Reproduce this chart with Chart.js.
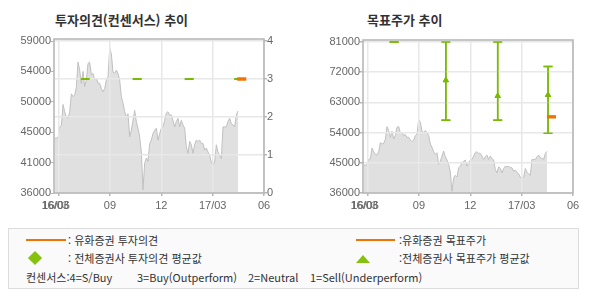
<!DOCTYPE html>
<html lang="ko">
<head>
<meta charset="utf-8">
<title>투자의견 / 목표주가 추이</title>
<script src="https://cdn.jsdelivr.net/npm/chart.js@4.4.1/dist/chart.umd.min.js"></script>
<style>
  body { margin: 0; width: 590px; height: 300px; position: relative; background: #fff; overflow: hidden;
         font-family: "Noto Sans CJK KR", "Noto Sans", sans-serif; color: #333; }
  .abs { position: absolute; white-space: pre; }
  .title { font-size: 13px; font-weight: bold; line-height: 16px; color: #333; }
  .lg { font-size: 11px; line-height: 14px; color: #333; }
  .box { position: absolute; left: 8px; top: 228px; width: 571px; height: 61px; box-sizing: border-box;
         border: 1px solid #dcdcdc; background: #fafafa; }
  .hline { position: absolute; height: 2px; background: #f07405; }
  .diamond { position: absolute; width: 10px; height: 10px; background: #84c20f; transform: rotate(45deg); }
  .tri { position: absolute; width: 0; height: 0; border-left: 7.5px solid transparent;
         border-right: 7.5px solid transparent; border-bottom: 8px solid #84c20f; }
</style>
</head>
<body>

<div class="abs title" style="left:55px; top:12px">투자의견(컨센서스) 추이</div>
<div class="abs title" style="left:367px; top:12px">목표주가 추이</div>

<canvas id="opinionChart" width="300" height="215" style="position:absolute; left:0; top:0"></canvas>
<canvas id="targetChart" width="290" height="215" style="position:absolute; left:300px; top:0"></canvas>

<div class="box"></div>
<div class="hline" style="left:26px; top:239px; width:40px"></div>
<div class="abs lg" style="left:68px; top:233px">: 유화증권 투자의견</div>
<div class="diamond" style="left:30px; top:253px"></div>
<div class="abs lg" style="left:68px; top:251px">: 전체증권사 투자의견 평균값</div>
<div class="hline" style="left:356px; top:239px; width:39px"></div>
<div class="abs lg" style="left:399px; top:233px">:유화증권 목표주가</div>
<div class="tri" style="left:356px; top:255px"></div>
<div class="abs lg" style="left:399px; top:251px">:전체증권사 목표주가 평균값</div>
<div class="abs lg" style="left:26px; top:270px">컨센서스:4=S/Buy</div>
<div class="abs lg" style="left:137px; top:270px">3=Buy(Outperform)</div>
<div class="abs lg" style="left:248px; top:270px">2=Neutral</div>
<div class="abs lg" style="left:310px; top:270px">1=Sell(Underperform)</div>

<script>
// x values are months counted from 2016-06 (0) to 2017-06 (12)
var xTickValues = [-0.2, -0.15, 0, 3, 6, 9, 12];
var xTickLabels = ['16/03', '16/06', '', '09', '12', '17/03', '06'];

var priceFirstMonth = -0.23;
var priceLastMonth = 10.48;
var prices = [
  44300, 44300, 44400, 46000, 46200, 49400, 48300, 47500, 47300, 48300,
  51000, 50600, 50800, 52000, 55800, 54600, 52600, 54400, 52100, 53100,
  55600, 55800, 53900, 54100, 53100, 53400, 52600, 52600, 51800, 51300,
  51800, 53100, 53600, 57900, 57100, 54300, 54100, 54600, 54100, 53100,
  50600, 49600, 48300, 47500, 48000, 44500, 45500, 47000, 48500, 46800,
  45800, 44500, 42200, 36500, 40500, 41300, 40800,
  43500, 44000, 45000, 45500, 45800, 44000, 45000, 45800, 46000, 47000,
  48100, 48300, 47800, 47800, 47000, 46000, 46800, 47300, 46000, 47000,
  46300, 45800, 43000, 42000, 43800, 43300, 42000, 43300, 44000, 43800,
  44000, 43500, 43500, 42500, 42800, 42200, 41700, 40700, 40200, 40700,
  43300, 42200, 41700, 41200, 46000, 46000, 46000, 46800, 47300, 46500,
  46300, 46000, 47800, 48400
];

// left axis of the opinion chart
var priceAxisTicks = [36000, 40600, 45200, 49800, 54400, 59000];
var priceAxisLabels = ['36000', '41000', '45000', '50000', '54000', '59000'];
var opinionAxisTicks = [0, 1, 2, 3, 4];
var targetAxisTicks = [36000, 45000, 54000, 63000, 72000, 81000];

// consensus opinion (all brokers average) and 유화증권 opinion
var opinionDates = [1.55, 4.59, 7.63, 10.52];
var opinionAvg = [3, 3, 3, 3];
var hwOpinionDates = [10.7];
var hwOpinion = [3];

// target price: range of all brokers, their average, and 유화증권
var targetDates = [1.55, 4.57, 7.6, 10.54];
var targetLow = [81000, 57700, 57700, 53800];
var targetHigh = [81000, 81000, 81000, 73700];
var targetAvg = [null, 69600, 64900, 65200];
var hwTargetDates = [10.74];
var hwTarget = [58700];

var green = '#7aba00';
var orange = '#f07405';

Chart.defaults.font.family = '"Liberation Sans", Arial, sans-serif';
Chart.defaults.font.size = 11;
Chart.defaults.color = '#666';

var pricePoints = prices.map(function (p, i) {
  return { x: priceFirstMonth + i * (priceLastMonth - priceFirstMonth) / (prices.length - 1), y: p };
});

function pairs(xs, ys) {
  return xs.map(function (x, i) { return { x: x, y: ys[i] }; });
}

function hideNeg(col) {
  return function (c) { return c.tick && c.tick.value < 0 ? 'rgba(0,0,0,0)' : col; };
}

function monthAxis() {
  return {
    type: 'linear',
    min: -0.27,
    max: 12,
    afterBuildTicks: function (s) { s.ticks = xTickValues.map(function (v) { return { value: v }; }); },
    afterFit: function (s) { s.height = 22; },
    ticks: { autoSkip: false, maxRotation: 0, padding: 3, callback: function (v, i) { return xTickLabels[i]; } },
    grid: { z: 1, color: hideNeg('#e8e8e8'), tickColor: hideNeg('#b8b8b8'), tickLength: 3, lineWidth: 1.5 },
    border: { display: false }
  };
}

function priceArea(axisId) {
  return {
    type: 'line',
    data: pricePoints,
    yAxisID: axisId,
    borderColor: '#c0c0c0',
    borderWidth: 1,
    backgroundColor: '#e0e0e0',
    fill: 'start',
    pointRadius: 0,
    tension: 0
  };
}

// frame round the plot, then the marks again so they sit above the grid
var topLayer = {
  id: 'topLayer',
  afterDraw: function (chart) {
    var ctx = chart.ctx, a = chart.chartArea;
    ctx.save();
    ctx.strokeStyle = '#b4b4b4';
    ctx.lineWidth = 1.5;
    ctx.strokeRect(a.left, a.top - 2, a.right - a.left, a.bottom - a.top + 2);
    ctx.restore();
    chart.data.datasets.forEach(function (ds, i) {
      if (ds.onTop) chart.getDatasetMeta(i).controller.draw();
    });
  }
};

var ctx = document.getElementById('opinionChart').getContext('2d');
var opinionChart = new Chart(ctx, {
  type: 'line',
  data: {
    datasets: [
      priceArea('yPrice'),
      {
        type: 'scatter',
        data: pairs(opinionDates, opinionAvg),
        yAxisID: 'yOpinion',
        pointStyle: 'line',
        pointRadius: 4.5,
        pointBorderWidth: 2,
        pointBorderColor: green,
        onTop: true
      },
      {
        type: 'scatter',
        data: pairs(hwOpinionDates, hwOpinion),
        yAxisID: 'yOpinion',
        pointStyle: 'line',
        pointRadius: 4.5,
        pointBorderWidth: 3,
        pointBorderColor: orange,
        onTop: true
      }
    ]
  },
  options: {
    responsive: false,
    animation: false,
    events: [],
    layout: { padding: { top: 41 } },
    plugins: { legend: { display: false }, tooltip: { enabled: false } },
    scales: {
      x: monthAxis(),
      yPrice: {
        position: 'left',
        min: 36000,
        max: 59000,
        afterBuildTicks: function (s) { s.ticks = priceAxisTicks.map(function (v) { return { value: v }; }); },
        afterFit: function (s) { s.width = 54; },
        ticks: { padding: 0, callback: function (v, i) { return priceAxisLabels[i]; } },
        grid: { drawOnChartArea: false, tickLength: 3, tickColor: '#b8b8b8' },
        border: { display: false }
      },
      yOpinion: {
        position: 'right',
        min: 0,
        max: 4,
        afterBuildTicks: function (s) { s.ticks = opinionAxisTicks.map(function (v) { return { value: v }; }); },
        afterFit: function (s) { s.width = 36; },
        ticks: { padding: 0 },
        grid: { z: 1, color: '#e8e8e8', tickColor: '#b8b8b8', tickLength: 3, lineWidth: 1.5 },
        border: { display: false }
      }
    }
  },
  plugins: [topLayer]
});

var ctx = document.getElementById('targetChart').getContext('2d');
var targetChart = new Chart(ctx, {
  type: 'line',
  data: {
    datasets: [
      priceArea('y'),
      {
        // vertical range line of every broker's target price
        type: 'line',
        data: targetDates.flatMap(function (d, i) {
          return [{ x: d, y: targetLow[i] }, { x: d, y: targetHigh[i] }, { x: d, y: null }];
        }),
        borderColor: green,
        borderWidth: 1.5,
        pointRadius: 0,
        spanGaps: false,
        fill: false,
        onTop: true
      },
      {
        type: 'scatter',
        data: pairs(targetDates, targetLow).concat(pairs(targetDates, targetHigh)),
        pointStyle: 'line',
        pointRadius: 4.5,
        pointBorderWidth: 1.5,
        pointBorderColor: green,
        onTop: true
      },
      {
        type: 'scatter',
        data: pairs(targetDates, targetAvg),
        pointStyle: 'triangle',
        pointRadius: 3,
        pointBackgroundColor: green,
        pointBorderColor: green,
        pointBorderWidth: 1,
        onTop: true
      },
      {
        type: 'scatter',
        data: pairs(hwTargetDates, hwTarget),
        pointStyle: 'line',
        pointRadius: 4.5,
        pointBorderWidth: 3,
        pointBorderColor: orange,
        onTop: true
      }
    ]
  },
  options: {
    responsive: false,
    animation: false,
    events: [],
    layout: { padding: { top: 42, right: 17 } },
    plugins: { legend: { display: false }, tooltip: { enabled: false } },
    scales: {
      x: monthAxis(),
      y: {
        position: 'left',
        min: 36000,
        max: 81000,
        afterBuildTicks: function (s) { s.ticks = targetAxisTicks.map(function (v) { return { value: v }; }); },
        afterFit: function (s) { s.width = 63; },
        ticks: { padding: 0, callback: function (v) { return String(v); } },
        grid: { z: 1, color: '#e8e8e8', tickColor: '#b8b8b8', tickLength: 3, lineWidth: 1.5 },
        border: { display: false }
      }
    }
  },
  plugins: [topLayer]
});
</script>
</body>
</html>
